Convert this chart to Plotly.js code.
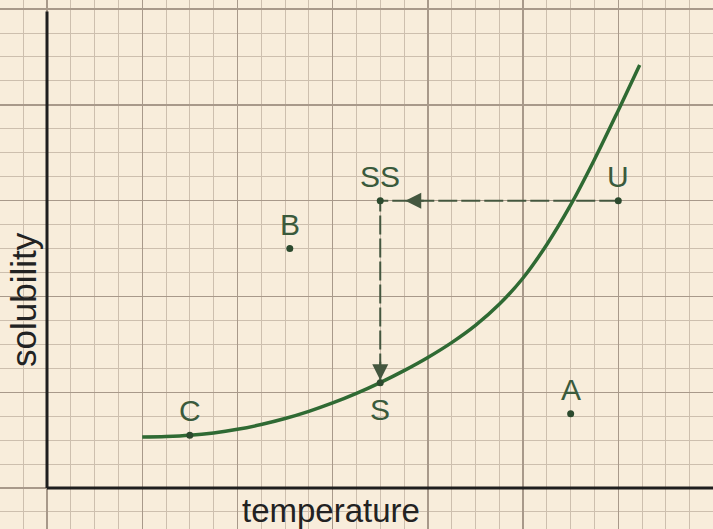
<!DOCTYPE html>
<html>
<head>
<meta charset="utf-8">
<script src="https://cdn.plot.ly/plotly-3.0.1.min.js"></script>
<style>
  body { margin: 0; padding: 0; background: #f8eddb; }
  #chart { width: 713px; height: 529px; }
</style>
</head>
<body>
<div id="chart"></div>
<script>
// solubility curve (1 unit = 1 small square)
const curveTemp = [4, 5, 6, 7, 8, 9, 10, 11, 12, 13, 14, 15, 16, 17, 18, 19, 20, 21, 22, 23, 24, 24.9];
const curveSol = [2.13, 2.15, 2.2, 2.3, 2.45, 2.65, 2.9, 3.2, 3.55, 3.95, 4.4, 4.9, 5.45, 6.07, 6.79,
                  7.67, 8.77, 10.17, 11.82, 13.72, 15.77, 17.67];

// labelled points
const pointNames = ['C', 'S', 'B', 'A', 'SS', 'U'];
const pointTemp = [6, 14, 10.2, 22, 14, 24];
const pointSol = [2.2, 4.4, 10, 3.1, 12, 12];
const labelBelow = [false, true, false, false, false, false];

// path of the cooling: U -> SS -> S
const pathNames = ['U', 'SS', 'S'];

const pt = (name) => {
    const i = pointNames.indexOf(name);
    return {x: pointTemp[i], y: pointSol[i]};
}

const pathPts = pathNames.map(pt);
const green = '#2f6a33';
const labelGreen = '#3a5a3c';
const dashCol = '#44573f';
const font = 'Liberation Sans, Arial, sans-serif';

let data = [
    {
        x: pathPts.map(p => p.x),
        y: pathPts.map(p => p.y),
        mode: 'lines',
        type: 'scatter',
        line: {color: dashCol, width: 2, dash: '19px,4px'},
        hoverinfo: 'skip'
    },
    {
        x: curveTemp,
        y: curveSol,
        mode: 'lines',
        type: 'scatter',
        line: {color: green, width: 3.5, shape: 'spline', smoothing: 1},
        hoverinfo: 'skip'
    },
    {
        x: pointTemp,
        y: pointSol,
        mode: 'markers',
        type: 'scatter',
        marker: {color: '#2c4a2e', size: 7},
        hoverinfo: 'skip'
    }
];

const ss = pt('SS');
const s = pt('S');

const gridAxis = (range) => ({
    range: range,
    tick0: 0,
    dtick: 4,
    showgrid: true,
    gridcolor: '#a8998a',
    gridwidth: 1.3,
    minor: {tick0: 0, dtick: 1, showgrid: true, gridcolor: '#cdbfae', gridwidth: 1},
    zeroline: false,
    showline: false,
    showticklabels: false,
    ticks: '',
    fixedrange: true
});

const pointLabels = pointNames.map((name, i) => ({
    text: name,
    x: pointTemp[i],
    y: pointSol[i],
    showarrow: false,
    xanchor: 'center',
    yanchor: labelBelow[i] ? 'top' : 'bottom',
    yshift: labelBelow[i] ? -8 : 6,
    font: {family: font, size: 30, color: labelGreen}
}));

const layout = {
    width: 713,
    height: 529,
    margin: {l: 0, r: 0, t: 0, b: 0},
    paper_bgcolor: '#f8eddb',
    plot_bgcolor: '#f8eddb',
    showlegend: false,
    xaxis: gridAxis([-1.975, 27.98]),
    yaxis: gridAxis([-1.713, 20.38]),
    shapes: [
        {type: 'line', xref: 'x', yref: 'y', x0: 0, x1: 0, y0: 0, y1: 19.9,
         line: {color: '#1e1e1e', width: 3}},
        {type: 'line', xref: 'x', yref: 'y', x0: 0, x1: 28.5, y0: 0, y1: 0,
         line: {color: '#1e1e1e', width: 3}}
    ],
    annotations: [
        {text: 'solubility', xref: 'paper', yref: 'paper', x: 23 / 713, y: 1 - 300 / 529,
         xanchor: 'center', yanchor: 'middle', textangle: -90, showarrow: false,
         font: {family: font, size: 35, color: '#222'}},
        {text: 'temperature', xref: 'paper', yref: 'paper', x: 331 / 713, y: 1 - 510 / 529,
         xanchor: 'center', yanchor: 'middle', showarrow: false,
         font: {family: font, size: 33, color: '#222'}},
        // arrow heads on the dashed path
        {text: '', x: ss.x + 1.05, y: ss.y, ax: 20, ay: 0, showarrow: true,
         arrowhead: 2, arrowsize: 1.6, arrowwidth: 2, arrowcolor: dashCol},
        {text: '', x: s.x, y: s.y + 0.1, ax: 0, ay: -20, showarrow: true,
         arrowhead: 2, arrowsize: 1.6, arrowwidth: 2, arrowcolor: dashCol}
    ].concat(pointLabels)
};

Plotly.newPlot('chart', data, layout, {displayModeBar: false, staticPlot: true});
</script>
</body>
</html>
